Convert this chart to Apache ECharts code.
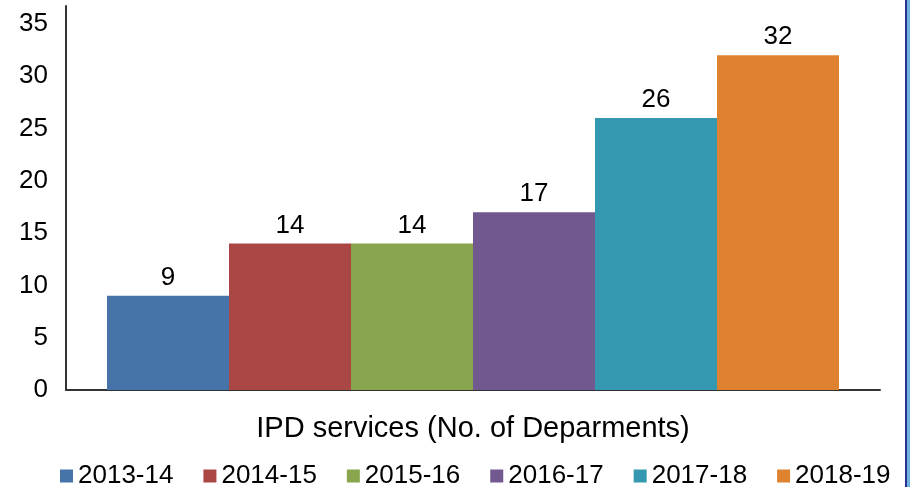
<!DOCTYPE html>
<html>
<head>
<meta charset="utf-8">
<script src="https://cdn.jsdelivr.net/npm/echarts@6/dist/echarts.min.js"></script>
<style>
  html, body { margin: 0; padding: 0; background: #fff; }
  #main { width: 910px; height: 487px; }
</style>
</head>
<body>
<div id="main"></div>
<script>
// data
var years = ['2013-14', '2014-15', '2015-16', '2016-17', '2017-18', '2018-19'];
var departments = [9, 14, 14, 17, 26, 32];
var colors = ['#4674A8', '#AA4644', '#89A54E', '#71588F', '#3498B0', '#DE822F'];
var category = ['IPD services (No. of Deparments)'];

var myChart = echarts.init(document.getElementById('main'));

var series = [];
for (var i = 0; i < years.length; i++) {
    series.push({
        name: years[i],
        type: 'bar',
        barWidth: 122,
        barGap: '0%',
        itemStyle: { color: colors[i] },
        label: {
            show: true,
            position: 'top',
            distance: 5,
            color: '#000',
            fontSize: 26,
            fontFamily: 'Liberation Sans'
        },
        data: [departments[i]]
    });
}

var option = {
    animation: false,
    textStyle: { fontFamily: 'Liberation Sans' },
    grid: { left: 66, right: 30, top: 6, bottom: 97 },
    legend: {
        data: years,
        left: 55,
        top: 458,
        itemWidth: 13,
        itemHeight: 13,
        itemGap: 30,
        icon: 'rect',
        textStyle: { fontSize: 26, color: '#000', fontFamily: 'Liberation Sans' }
    },
    xAxis: {
        type: 'category',
        data: category,
        axisTick: { show: false },
        axisLabel: { show: false },
        axisLine: { lineStyle: { color: '#333', width: 2 } },
        name: category[0],
        nameLocation: 'middle',
        nameGap: 24,
        nameTextStyle: { fontSize: 29, color: '#000', fontFamily: 'Liberation Sans' }
    },
    yAxis: {
        type: 'value',
        min: 0,
        max: 36.7,
        interval: 5,
        axisLine: { show: true, lineStyle: { color: '#333', width: 2 } },
        axisTick: { show: false },
        splitLine: { show: false },
        axisLabel: {
            fontSize: 26,
            color: '#000',
            margin: 18,
            fontFamily: 'Liberation Sans',
            formatter: function (v) { return v % 5 === 0 ? String(v) : ''; }
        }
    },
    graphic: [
        { type: 'rect', right: 3, top: 0, shape: { width: 2, height: 487 }, style: { fill: '#2E3192' } },
        { type: 'rect', right: 0, top: 0, shape: { width: 3, height: 487 }, style: { fill: '#6FB3E0' } }
    ],
    series: series
};

myChart.setOption(option);
</script>
</body>
</html>
